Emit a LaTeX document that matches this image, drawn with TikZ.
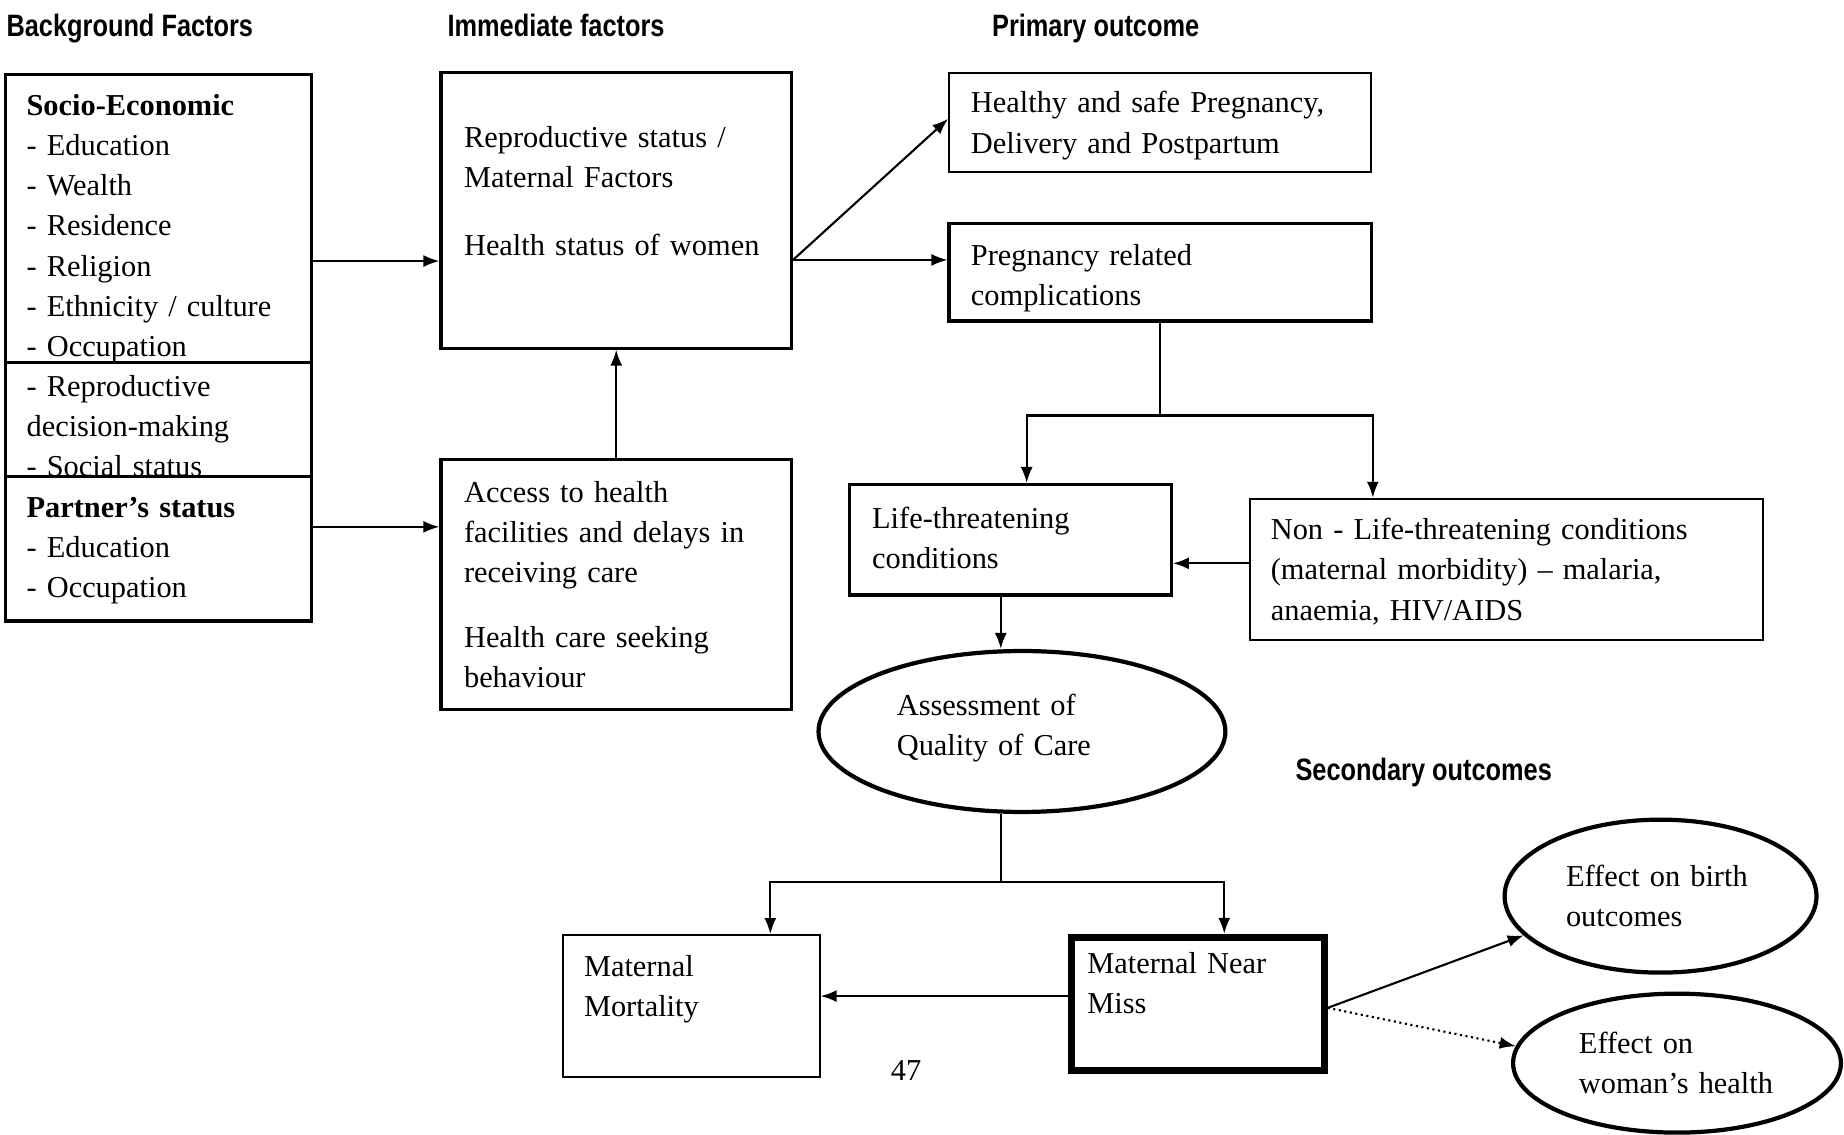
\documentclass[tikz,border=0pt]{standalone}
\usepackage{fontspec}
\setmainfont{Liberation Serif}
\newfontfamily\headfont[FakeStretch=0.82]{Liberation Sans}
\usetikzlibrary{arrows.meta,positioning,fit,shapes.geometric}

\tikzset{
  box/.style={draw, rectangle, inner sep=0pt, line width=0.5pt},
  thickbox/.style={box, line width=0.9pt},
  heavybox/.style={box, line width=2pt},
  oval/.style={draw, ellipse, inner sep=0pt, line width=1.2pt},
  txt/.style={anchor=base west, align=left, inner sep=0pt, text width=6cm,
    font=\fontsize{8.65}{11.44}\selectfont},
  head/.style={anchor=base west, inner sep=0pt,
    font=\headfont\bfseries\fontsize{8.8}{10}\selectfont},
  arr/.style={-{Latex[length=1.6mm,width=1.2mm]}, line width=0.6pt},
  link/.style={line width=0.6pt},
}

\begin{document}
\begin{tikzpicture}[x=0.01176cm, y=-0.01176cm]
    \useasboundingbox (0,0) rectangle (1568,965);

    % Column headings
    \node[head] (hbg) at (5,31) {Background Factors};
    \node[head] (him) at (380,31) {Immediate factors};
    \node[head] (hpr) at (843,31) {Primary outcome};
    \node[head] (hsec) at (1101,664) {Secondary outcomes};

    % Background factors (three stacked boxes)
    \node[thickbox, fit={(5,63)(265,308)}] (socio) {};
    \node[thickbox, fit={(5,308)(265,405)}] (decis) {};
    \node[thickbox, fit={(5,405)(265,528)}] (partner) {};
    \node[txt] (socioTxt) at (22,98) {\textbf{Socio-Economic}\\- Education\\- Wealth\\- Residence\\- Religion\\- Ethnicity / culture\\- Occupation};
    \node[txt] (decisTxt) at (22,337) {- Reproductive\\decision-making\\- Social status};
    \node[txt] (partnerTxt) at (22,440) {\textbf{Partner’s status}\\- Education\\- Occupation};

    % Immediate factors
    \node[thickbox, fit={(375,62)(673,296)}] (repro) {};
    \node[thickbox, fit={(375,391)(673,603)}] (access) {};
    \node[txt] (reproTxt) at (394,125) {Reproductive status /\\Maternal Factors\\[8pt]Health status of women};
    \node[txt] (accessTxt) at (394,427) {Access to health\\facilities and delays in\\receiving care\\[7pt]Health care seeking\\behaviour};

    % Primary outcome
    \node[box, fit={(807,62)(1166,146)}] (healthy) {};
    \node[thickbox, fit={(807,190)(1166,273)}] (compl) {};
    \node[txt] (healthyTxt) at (825,96) {Healthy and safe Pregnancy,\\Delivery and Postpartum};
    \node[txt] (complTxt) at (825,226) {Pregnancy related\\complications};

    % Conditions
    \node[thickbox, fit={(722,412)(996,506)}] (life) {};
    \node[box, fit={(1063,424)(1499,544)}] (nonlife) {};
    \node[txt] (lifeTxt) at (741,449) {Life-threatening\\conditions};
    \node[txt] (nonlifeTxt) at (1080,459) {Non - Life-threatening conditions\\(maternal morbidity) -- malaria,\\anaemia, HIV/AIDS};

    % Quality of care
    \node[oval, minimum width=4.07cm, minimum height=1.61cm] (assess) at (869,622) {};
    \node[txt] (assessTxt) at (762,608) {Assessment of\\Quality of Care};

    % Secondary outcomes
    \node[box, fit={(479,795)(697,916)}] (mort) {};
    \node[heavybox, fit={(911,797)(1126,910)}] (near) {};
    \node[txt] (mortTxt) at (496,830) {Maternal\\Mortality};
    \node[txt] (nearTxt) at (924,828) {Maternal Near\\Miss};
    \node[oval, minimum width=3.12cm, minimum height=1.53cm] (birth) at (1412,762) {};
    \node[oval, minimum width=3.28cm, minimum height=1.39cm] (woman) at (1426,904) {};
    \node[txt] (birthTxt) at (1331,754) {Effect on birth\\outcomes};
    \node[txt] (womanTxt) at (1342,896) {Effect on\\woman’s health};

    % Page number
    \node[txt] (pg) at (757,919) {47};

    % Connectors
    \coordinate (s1) at ([shift={(0,36.5)}]socio.east);
    \draw[arr] (s1) -- (s1 -| repro.west);
    \coordinate (p1) at ([shift={(0,-18.5)}]partner.east);
    \draw[arr] (p1) -- (p1 -| access.west);
    \draw[arr] (access.north) -- (repro.south);

    \coordinate (hub) at ([shift={(0,42)}]repro.east);
    \draw[arr] (hub) -- ([shift={(0,-3)}]healthy.west);
    \draw[arr] (hub) -- (hub -| compl.west);

    \coordinate (split1) at ([shift={(0,79)}]compl.south);
    \draw[link] (compl.south) -- (split1);
    \draw[arr] (split1) -| ([shift={(14,0)}]life.north);
    \draw[arr] (split1) -| (nonlife.north -| compl.east);

    \coordinate (n1) at ([shift={(0,-5)}]nonlife.west);
    \draw[arr] (n1) -- (n1 -| life.east);
    \coordinate (l1) at ([shift={(-8,0)}]life.south);
    \draw[arr] (l1) -- (l1 |- assess.north);

    \coordinate (q1) at ([shift={(-18,0)}]assess.south);
    \coordinate (split2) at ([shift={(-18,58)}]assess.south);
    \draw[link] (q1) -- (split2);
    \draw[arr] (split2) -| ([shift={(67,0)}]mort.north);
    \draw[arr] (split2) -| ([shift={(22.5,0)}]near.north);

    \coordinate (m1) at ([shift={(0,-6.5)}]near.west);
    \draw[arr] (m1) -- (m1 -| mort.east);
    \coordinate (m2) at ([shift={(0,3.5)}]near.east);
    \draw[arr] (m2) -- (birth.196);
    \draw[arr, densely dotted] (m2) -- (woman.174);
\end{tikzpicture}
\end{document}
